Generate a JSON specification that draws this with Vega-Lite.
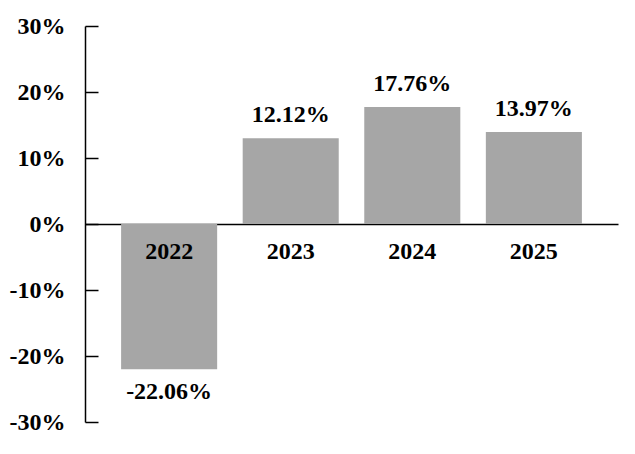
{
  "$schema": "https://vega.github.io/schema/vega-lite/v6.json",
  "autosize": {"type": "none"},
  "padding": {"left": 85, "top": 26, "right": 17, "bottom": 32},
  "width": 533,
  "height": 396,
  "background": "white",
  "config": {"view": {"stroke": null}, "font": "Liberation Serif"},
  "data": {
    "values": [
      {"year": "2022", "value": -22.0, "label": "-22.06%"},
      {"year": "2023", "value": 13.0, "label": "12.12%"},
      {"year": "2024", "value": 17.72, "label": "17.76%"},
      {"year": "2025", "value": 13.95, "label": "13.97%"}
    ]
  },
  "encoding": {
    "x": {
      "field": "year",
      "type": "nominal",
      "scale": {"paddingInner": 0.21, "paddingOuter": 0.297},
      "axis": {
        "title": null,
        "offset": -198,
        "ticks": false,
        "labels": false,
        "domainColor": "black",
        "domainWidth": 1.5
      }
    }
  },
  "layer": [
    {
      "mark": {"type": "bar", "color": "#A6A6A6"},
      "encoding": {
        "y": {
          "field": "value",
          "type": "quantitative",
          "scale": {"domain": [-30, 30], "nice": false},
          "axis": {
            "title": null,
            "values": [-30, -20, -10, 0, 10, 20, 30],
            "labelExpr": "datum.value + '%'",
            "grid": false,
            "tickSize": -13,
            "tickColor": "black",
            "tickWidth": 1.5,
            "labelPadding": 33,
            "labelFont": "Liberation Serif",
            "labelFontWeight": "bold",
            "labelFontSize": 24,
            "labelColor": "black",
            "domainColor": "black",
            "domainWidth": 1.5
          }
        }
      }
    },
    {
      "mark": {"type": "text", "baseline": "alphabetic", "dy": 35, "font": "Liberation Serif", "fontWeight": "bold", "fontSize": 24, "color": "black"},
      "encoding": {
        "y": {"datum": 0, "type": "quantitative"},
        "text": {"field": "year"}
      }
    },
    {
      "transform": [{"filter": "datum.value >= 0"}],
      "mark": {"type": "text", "baseline": "alphabetic", "dy": -16, "font": "Liberation Serif", "fontWeight": "bold", "fontSize": 24, "color": "black"},
      "encoding": {
        "y": {"field": "value", "type": "quantitative"},
        "text": {"field": "label"}
      }
    },
    {
      "transform": [{"filter": "datum.value < 0"}],
      "mark": {"type": "text", "baseline": "alphabetic", "dy": 30, "font": "Liberation Serif", "fontWeight": "bold", "fontSize": 24, "color": "black"},
      "encoding": {
        "y": {"field": "value", "type": "quantitative"},
        "text": {"field": "label"}
      }
    }
  ]
}
